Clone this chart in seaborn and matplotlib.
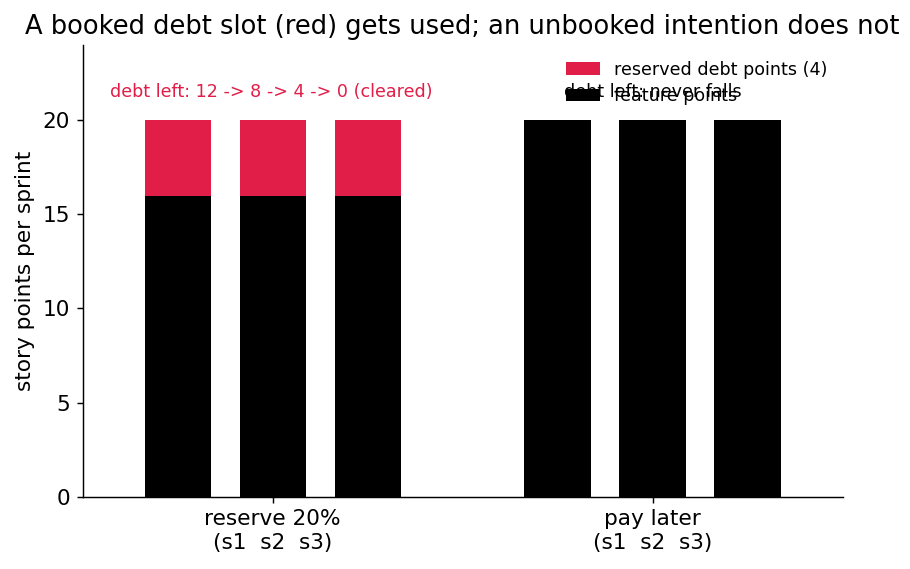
import pandas as pd
import seaborn as sns
import matplotlib.pyplot as plt

# bar positions: three sprints per strategy, gap in between
positions = [0, 1, 2, 4, 5, 6]
feature_points = [16, 16, 16, 20, 20, 20]
debt_points = [4, 4, 4, 0, 0, 0]
group_ticks = [1, 5]
group_labels = ['reserve 20%\n(s1  s2  s3)', 'pay later\n(s1  s2  s3)']

RED = '#e01e48'

df = pd.DataFrame({'pos': positions, 'feature': feature_points, 'debt': debt_points})
df['total'] = df['feature'] + df['debt']

sns.set_style('ticks', rc={'text.color': 'black', 'axes.labelcolor': 'black',
                           'xtick.color': 'black', 'ytick.color': 'black',
                           'axes.edgecolor': 'black'})
fig, ax = plt.subplots(figsize=(7, 4.377), dpi=130)

sns.barplot(data=df, x='pos', y='total', native_scale=True, width=0.7,
            color=RED, saturation=1, linewidth=0, label='reserved debt points (4)', ax=ax)
sns.barplot(data=df, x='pos', y='feature', native_scale=True, width=0.7,
            color='black', saturation=1, linewidth=0, label='feature points', ax=ax)

ax.text(-0.71, 21.5, 'debt left: 12 -> 8 -> 4 -> 0 (cleared)', color=RED, fontsize=9.7,
        va='center')
ax.text(4.07, 21.5, 'debt left: never falls', color='black', fontsize=9.7, va='center')

ax.set_xlim(-1, 7)
ax.set_ylim(0, 24)
ax.set_yticks([0, 5, 10, 15, 20])
ax.set_xticks(group_ticks)
ax.set_xticklabels(group_labels)
ax.tick_params(labelsize=12)
ax.set_xlabel('')
ax.set_ylabel('story points per sprint', fontsize=12)
ax.set_title('A booked debt slot (red) gets used; an unbooked intention does not', fontsize=14.25)
ax.legend(loc='upper right', frameon=False, fontsize=9.7, handlelength=1.9)
sns.despine(ax=ax)

plt.subplots_adjust(left=0.091, right=0.926, top=0.921, bottom=0.127)
plt.savefig('out.png', dpi=130)
